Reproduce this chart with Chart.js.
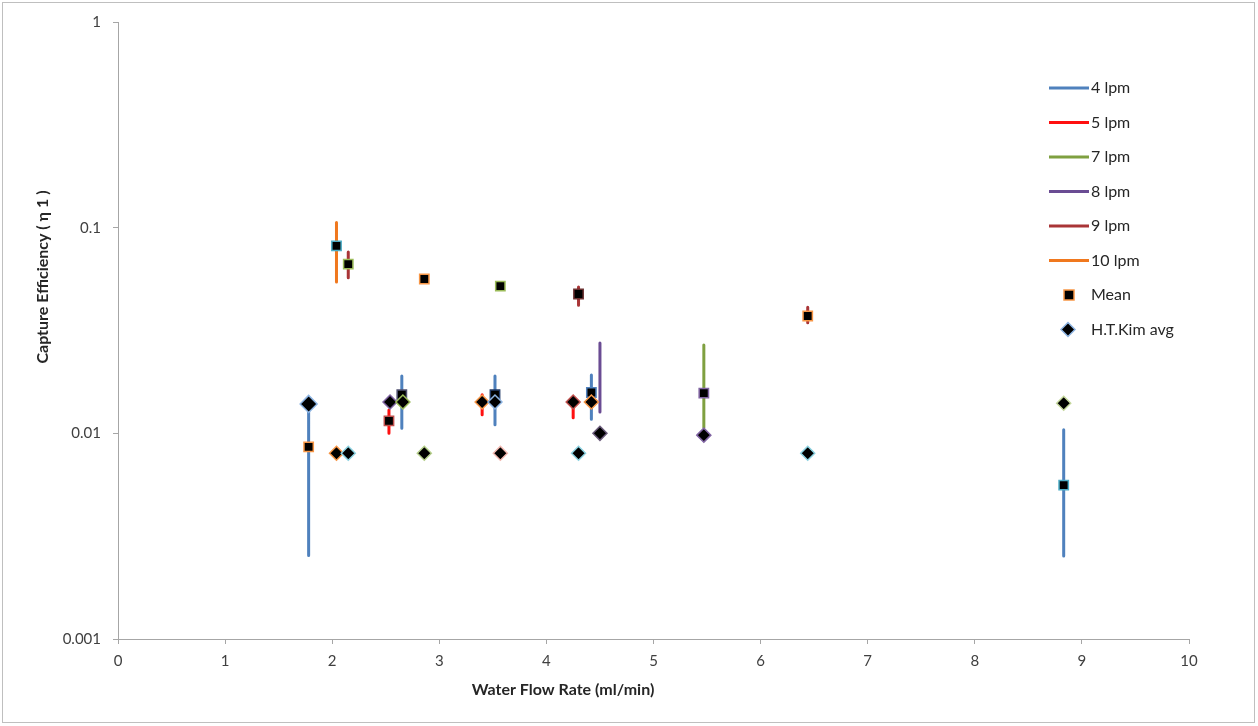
<!DOCTYPE html>
<html>
<head>
<meta charset="utf-8">
<script src="https://cdn.jsdelivr.net/npm/chart.js@4"></script>
<style>
  body { margin: 0; background: #fff; }
  canvas { display: block; }
</style>
</head>
<body>
<canvas id="effChart" width="1258" height="726"></canvas>
<script>
// Error bars per flow series (x, low, high)
const lpm4X = [1.78, 2.65, 3.52, 4.42, 8.83];
const lpm4Low = [0.00255, 0.0106, 0.0110, 0.0117, 0.00253];
const lpm4High = [0.0139, 0.0190, 0.0190, 0.0192, 0.0104];

const lpm5X = [2.53, 3.40, 4.25];
const lpm5Low = [0.0100, 0.0123, 0.0119];
const lpm5High = [0.0130, 0.0154, 0.0133];

const lpm7X = [5.47];
const lpm7Low = [0.0107];
const lpm7High = [0.0269];

const lpm8X = [4.50];
const lpm8Low = [0.0127];
const lpm8High = [0.0275];

const lpm9X = [2.15, 4.30, 6.44];
const lpm9Low = [0.0571, 0.0420, 0.0345];
const lpm9High = [0.0762, 0.0515, 0.0410];

const lpm10X = [2.04];
const lpm10Low = [0.0545];
const lpm10High = [0.106];

// Mean values
const meanX = [1.78, 2.04, 2.15, 2.53, 2.65, 2.86, 3.52, 3.57, 4.30, 4.42, 5.47, 6.44, 8.83];
const meanY = [0.0086, 0.0815, 0.0665, 0.0115, 0.0154, 0.0563, 0.0154, 0.0520, 0.0476, 0.0158, 0.0157, 0.0372, 0.0056];

// H.T.Kim averages
const kimX = [1.78, 2.04, 2.15, 2.54, 2.66, 2.86, 3.40, 3.52, 3.57, 4.25, 4.30, 4.42, 4.50, 5.47, 6.44, 8.83];
const kimY = [0.0139, 0.0080, 0.0080, 0.0142, 0.0142, 0.0080, 0.0142, 0.0142, 0.0080, 0.0142, 0.0080, 0.0142, 0.0100, 0.0098, 0.0080, 0.0140];

const xTickLabels = ['0', '1', '2', '3', '4', '5', '6', '7', '8', '9', '10'];
const yTickValues = [0.001, 0.01, 0.1, 1];
const yTickLabels = ['0.001', '0.01', '0.1', '1'];

const seriesNames = ['4 lpm', '5 lpm', '7 lpm', '8 lpm', '9 lpm', '10 lpm'];
const seriesColors = ['#4F81BD', '#FF1010', '#7FA040', '#6A4C93', '#A93537', '#F0781E'];

const FONT = 'Lato, "Open Sans", sans-serif';

function barPoints(xs, lows, highs) {
  var pts = [];
  for (var i = 0; i < xs.length; i++) {
    pts.push({ x: xs[i], y: lows[i] });
    pts.push({ x: xs[i], y: highs[i] });
    pts.push({ x: xs[i], y: null });
  }
  return pts;
}

function toPoints(xs, ys) {
  return xs.map(function (x, i) { return { x: x, y: ys[i] }; });
}

var barSets = [
  [lpm4X, lpm4Low, lpm4High],
  [lpm5X, lpm5Low, lpm5High],
  [lpm7X, lpm7Low, lpm7High],
  [lpm8X, lpm8Low, lpm8High],
  [lpm9X, lpm9Low, lpm9High],
  [lpm10X, lpm10Low, lpm10High]
];

var datasets = barSets.map(function (s, i) {
  return {
    label: seriesNames[i],
    data: barPoints(s[0], s[1], s[2]),
    showLine: true,
    spanGaps: false,
    borderColor: seriesColors[i],
    borderWidth: 3,
    borderCapStyle: 'round',
    pointRadius: 0,
    order: 3
  };
});

datasets.push({
  label: 'Mean',
  data: toPoints(meanX, meanY),
  pointStyle: 'rect',
  pointRadius: 6.6,
  backgroundColor: '#000',
  pointBorderColor: ['#F79646', '#4BACC6', '#9BBB59', '#C0504D', '#4F4F6F', '#F79646', '#1F3864',
    '#9BBB59', '#6B3030', '#4F81BD', '#8064A2', '#F79646', '#4BACC6'],
  pointBorderWidth: 1.5,
  order: 2
});

datasets.push({
  label: 'H.T.Kim avg',
  data: toPoints(kimX, kimY),
  pointStyle: 'rectRot',
  pointRadius: [8.5, 7, 7, 7, 7, 7, 7, 7, 7, 7, 7, 7, 7, 7, 7, 7],
  backgroundColor: '#000',
  pointBorderColor: ['#8DB4E2', '#F79646', '#8DD3E2', '#8064A2', '#9BBB59', '#B5CF8A', '#F79646',
    '#8DB4E2', '#F2B8B0', '#C0504D', '#8DD3E2', '#F79646', '#6B5B7B', '#8064A2', '#8DD3E2', '#C4D79B'],
  pointBorderWidth: 1.5,
  order: 1
});

// Frame, axis titles and legend
var decorPlugin = {
  id: 'decor',
  afterDraw: function (chart) {
    var ctx = chart.ctx;
    ctx.save();
    ctx.strokeStyle = '#bfbfbf';
    ctx.lineWidth = 1;
    ctx.strokeRect(2.5, 2.5, 1252, 720);

    ctx.fillStyle = '#262626';
    ctx.font = 'bold 16px ' + FONT;
    ctx.textAlign = 'center';
    ctx.textBaseline = 'middle';
    ctx.fillText('Water Flow Rate (ml/min)', 563, 690);
    ctx.translate(43, 277);
    ctx.rotate(-Math.PI / 2);
    ctx.fillText('Capture Efficiency ( η 1 )', 0, 0);
    ctx.restore();

    ctx.save();
    ctx.font = '16px ' + FONT;
    ctx.textAlign = 'left';
    ctx.textBaseline = 'middle';
    var y0 = 88, step = 34.5;
    seriesNames.forEach(function (name, i) {
      var y = y0 + i * step;
      ctx.strokeStyle = seriesColors[i];
      ctx.lineWidth = 3;
      ctx.beginPath();
      ctx.moveTo(1049, y);
      ctx.lineTo(1089, y);
      ctx.stroke();
      ctx.fillStyle = '#262626';
      ctx.fillText(name, 1091, y);
    });
    var ym = y0 + 6 * step;
    ctx.fillStyle = '#000';
    ctx.strokeStyle = '#F79646';
    ctx.lineWidth = 1.5;
    ctx.fillRect(1064, ym - 5, 10, 10);
    ctx.strokeRect(1064, ym - 5, 10, 10);
    ctx.fillStyle = '#262626';
    ctx.fillText('Mean', 1091, ym);
    var yk = y0 + 7 * step;
    ctx.fillStyle = '#000';
    ctx.strokeStyle = '#8DB4E2';
    ctx.beginPath();
    ctx.moveTo(1068, yk - 7);
    ctx.lineTo(1075, yk);
    ctx.lineTo(1068, yk + 7);
    ctx.lineTo(1061, yk);
    ctx.closePath();
    ctx.fill();
    ctx.stroke();
    ctx.fillStyle = '#262626';
    ctx.fillText('H.T.Kim avg', 1091, yk);
    ctx.restore();
  }
};

window.onload = function () {
  var ctx = document.getElementById('effChart').getContext('2d');
  new Chart(ctx, {
    type: 'scatter',
    data: { datasets: datasets },
    options: {
      responsive: false,
      animation: false,
      layout: { padding: { left: 0, top: 22, right: 69, bottom: 0 } },
      plugins: { legend: { display: false }, tooltip: { enabled: false } },
      scales: {
        x: {
          type: 'linear',
          min: 0,
          max: 10,
          afterFit: function (scale) { scale.height = 87; },
          afterBuildTicks: function (scale) {
            scale.ticks = xTickLabels.map(function (t, i) { return { value: i }; });
          },
          ticks: {
            padding: 8,
            color: '#404040',
            font: { family: FONT, size: 15 },
            maxRotation: 0,
            callback: function (v) { return xTickLabels[Math.round(v)]; }
          },
          grid: { drawOnChartArea: false, tickLength: 5, color: '#a6a6a6' },
          border: { color: '#a6a6a6' }
        },
        y: {
          type: 'logarithmic',
          min: 0.001,
          max: 1,
          afterFit: function (scale) { scale.width = 118; },
          afterBuildTicks: function (scale) {
            scale.ticks = yTickValues.map(function (v) { return { value: v }; });
          },
          ticks: {
            padding: 12,
            color: '#404040',
            font: { family: FONT, size: 15 },
            callback: function (v) {
              var i = yTickValues.findIndex(function (t) { return Math.abs(t - v) / t < 1e-6; });
              return i >= 0 ? yTickLabels[i] : '';
            }
          },
          grid: { drawOnChartArea: false, tickLength: 5, color: '#a6a6a6' },
          border: { color: '#a6a6a6' }
        }
      }
    },
    plugins: [decorPlugin]
  });
};
</script>
</body>
</html>
